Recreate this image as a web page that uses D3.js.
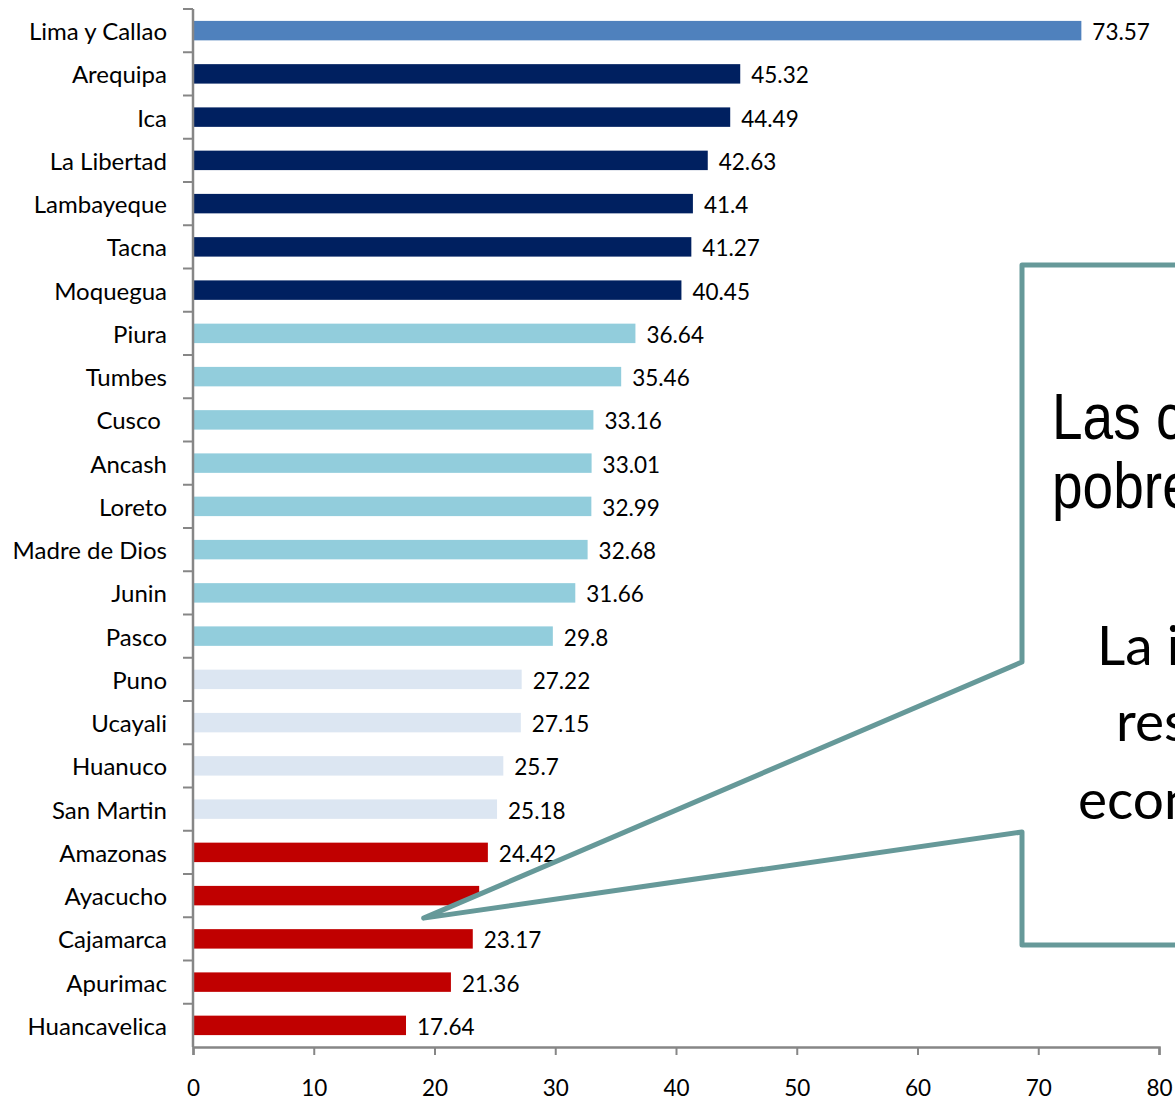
<!DOCTYPE html>
<html>
<head>
<meta charset="utf-8">
<script src="https://cdn.jsdelivr.net/npm/d3@7"></script>
<style>
  html, body { margin: 0; padding: 0; background: #ffffff; overflow: hidden; }
  svg { display: block; }
</style>
</head>
<body>
<svg id="chart" width="1175" height="1101"></svg>
<script>
// Regions ordered top to bottom
const categories = [
  "Lima y Callao", "Arequipa", "Ica", "La Libertad", "Lambayeque", "Tacna",
  "Moquegua", "Piura", "Tumbes", "Cusco\u00a0", "Ancash", "Loreto",
  "Madre de Dios", "Junin", "Pasco", "Puno", "Ucayali", "Huanuco",
  "San Martin", "Amazonas", "Ayacucho", "Cajamarca", "Apurimac", "Huancavelica"
];
const values = [
  73.57, 45.32, 44.49, 42.63, 41.4, 41.27,
  40.45, 36.64, 35.46, 33.16, 33.01, 32.99,
  32.68, 31.66, 29.8, 27.22, 27.15, 25.7,
  25.18, 24.42, 23.7, 23.17, 21.36, 17.64
];
const groups = [
  "capital", "alto", "alto", "alto", "alto", "alto",
  "alto", "medio", "medio", "medio", "medio", "medio",
  "medio", "medio", "medio", "bajo", "bajo", "bajo",
  "bajo", "critico", "critico", "critico", "critico", "critico"
];
const groupColors = {
  capital: "#4F81BD",
  alto: "#002060",
  medio: "#92CDDC",
  bajo: "#DCE6F2",
  critico: "#C00000"
};
const xTicks = [0, 10, 20, 30, 40, 50, 60, 70, 80];
const calloutLines = [
  { text: "Las cinco regiones más", font: "Liberation Sans", size: 64, narrow: true },
  { text: "pobres del país", font: "Liberation Sans", size: 64, narrow: true },
  { text: "La inversión privada", font: "Lato", size: 55, narrow: false },
  { text: "responde a las", font: "Lato", size: 55, narrow: false },
  { text: "economías regionales", font: "Lato", size: 55, narrow: false }
];

const data = categories.map((c, i) => ({ name: c, value: values[i], group: groups[i] }));

const svg = d3.select("#chart");
const axisColor = "#868686";
const labelFont = "Lato, 'Open Sans', sans-serif";

const x = d3.scaleLinear().domain([0, 80]).range([193, 1159]);
const y = d3.scaleBand()
  .domain(categories)
  .range([9, 1047])
  .paddingInner(0.55)
  .paddingOuter(0.275);

// Bars
svg.append("g")
  .selectAll("rect")
  .data(data)
  .join("rect")
  .attr("x", x(0))
  .attr("y", d => y(d.name))
  .attr("width", d => x(d.value) - x(0))
  .attr("height", y.bandwidth())
  .attr("fill", d => groupColors[d.group]);

// Value labels
svg.append("g")
  .selectAll("text")
  .data(data)
  .join("text")
  .attr("x", d => x(d.value) + 11)
  .attr("y", d => y(d.name) + y.bandwidth() / 2 + 1)
  .attr("dominant-baseline", "central")
  .attr("font-family", labelFont)
  .attr("font-size", 22.5)
  .attr("fill", "#000")
  .text(d => String(d.value));

// Category axis: tick marks sit between categories
const step = y.step();
const yAxis = svg.append("g");
yAxis.append("line")
  .attr("x1", x(0)).attr("x2", x(0))
  .attr("y1", 9).attr("y2", 1047)
  .attr("stroke", axisColor).attr("stroke-width", 2.5);
yAxis.selectAll("line.tick")
  .data(d3.range(categories.length))
  .join("line")
  .attr("class", "tick")
  .attr("x1", x(0) - 10).attr("x2", x(0))
  .attr("y1", i => 9 + i * step).attr("y2", i => 9 + i * step)
  .attr("stroke", axisColor).attr("stroke-width", 2);
yAxis.selectAll("text")
  .data(data)
  .join("text")
  .attr("x", 167)
  .attr("y", d => y(d.name) + y.bandwidth() / 2)
  .attr("text-anchor", "end")
  .attr("dominant-baseline", "central")
  .attr("font-family", labelFont)
  .attr("font-size", 24)
  .attr("fill", "#000")
  .text(d => d.name);

// Value axis
const xAxis = svg.append("g").attr("transform", "translate(0,1047)")
  .call(d3.axisBottom(x).tickValues(xTicks).tickSize(8).tickPadding(25).tickFormat(d3.format("d")));
xAxis.select(".domain").attr("stroke", axisColor).attr("stroke-width", 2.5);
xAxis.selectAll(".tick line").attr("stroke", axisColor).attr("stroke-width", 2);
xAxis.selectAll(".tick text")
  .attr("font-family", labelFont)
  .attr("font-size", 22.5)
  .attr("fill", "#000");

// Callout with pointer towards the poorest regions
const tipX = x(19.1), tipY = y("Cajamarca") - 11;
const boxL = 1022, boxT = 265, boxB = 945, boxR = 1200;
const calloutPath = d3.path();
calloutPath.moveTo(boxL, boxT);
calloutPath.lineTo(boxR, boxT);
calloutPath.lineTo(boxR, boxB);
calloutPath.lineTo(boxL, boxB);
calloutPath.lineTo(boxL, 832);
calloutPath.lineTo(tipX, tipY);
calloutPath.lineTo(boxL, 662);
calloutPath.closePath();
svg.append("path")
  .attr("d", calloutPath.toString())
  .attr("fill", "#ffffff")
  .attr("stroke", "#669999")
  .attr("stroke-width", 5)
  .attr("stroke-linejoin", "round");

svg.append("clipPath").attr("id", "calloutClip")
  .append("rect").attr("x", boxL + 3).attr("y", boxT + 3).attr("width", 400).attr("height", boxB - boxT - 6);

const linePos = [[1052, 439], [1052, 508], [1097, 665], [1116, 741], [1078, 819]];
const calloutText = svg.append("g").attr("clip-path", "url(#calloutClip)");
calloutText.selectAll("text")
  .data(calloutLines)
  .join("text")
  .attr("transform", (d, i) => `translate(${linePos[i][0]},${linePos[i][1]}) scale(${d.narrow ? 0.86 : 1},1)`)
  .attr("font-family", d => d.font)
  .attr("font-size", d => d.size)
  .attr("fill", "#000")
  .text(d => d.text);
</script>
</body>
</html>
